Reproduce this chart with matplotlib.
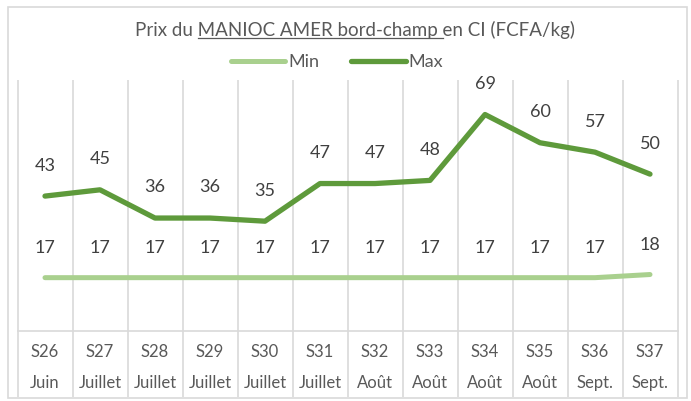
import matplotlib.pyplot as plt
from matplotlib.patches import Rectangle
from matplotlib.lines import Line2D
import numpy as np

plt.rcParams['font.family'] = ['Lato', 'DejaVu Sans']

weeks = ["S26", "S27", "S28", "S29", "S30", "S31", "S32", "S33", "S34", "S35", "S36", "S37"]
months = ["Juin", "Juillet", "Juillet", "Juillet", "Juillet", "Juillet",
          "Août", "Août", "Août", "Août", "Sept.", "Sept."]
prix_min = [17, 17, 17, 17, 17, 17, 17, 17, 17, 17, 17, 18]
prix_max = [43, 45, 36, 36, 35, 47, 47, 48, 69, 60, 57, 50]

c_min = '#a9d08e'
c_max = '#5e9a3b'
grid_c = '#d9d9d9'
txt_c = '#595959'
lab_c = '#404040'

W, H = 691, 401
fig = plt.figure(figsize=(W / 100, H / 100), dpi=100)

# outer chart border
fig.patches.append(Rectangle((8 / W, 3 / H), 679 / W, 391 / H, transform=fig.transFigure,
                             fill=False, edgecolor=grid_c, linewidth=1.2))

ax = fig.add_axes([17.5 / W, 70 / H, 660 / W, 251 / H])
x = np.arange(len(weeks))
ax.set_xlim(-0.5, len(weeks) - 0.5)
ax.set_ylim(0, 80)
for s in ax.spines.values():
    s.set_visible(False)
ax.set_xticks([])
ax.set_yticks([])

# vertical category separators, running down through the label rows
trans = ax.get_xaxis_transform()
bounds = np.arange(len(weeks) + 1) - 0.5
ax.vlines(bounds, -0.263, 1, transform=trans, colors=grid_c, linewidth=1.2, clip_on=False, zorder=0)
ax.plot([-0.5, len(weeks) - 0.5], [0, 0], transform=trans, color=grid_c, linewidth=1.2,
        clip_on=False, zorder=0)

l_min, = ax.plot(x, prix_min, color=c_min, linewidth=3.6, solid_capstyle='round', label='Min', zorder=3)
l_max, = ax.plot(x, prix_max, color=c_max, linewidth=3.8, solid_capstyle='round', label='Max', zorder=3)

for xi, v in zip(x, prix_min):
    ax.annotate(str(v), (xi, v), xytext=(0, 21), textcoords='offset points',
                ha='center', va='center', fontsize=13, color=lab_c)
for xi, v in zip(x, prix_max):
    ax.annotate(str(v), (xi, v), xytext=(0, 22), textcoords='offset points',
                ha='center', va='center', fontsize=13, color=lab_c)

for xi, w, m in zip(x, weeks, months):
    ax.text(xi, -0.084, w, transform=trans, ha='center', va='center', fontsize=12, color=txt_c)
    ax.text(xi, -0.207, m, transform=trans, ha='center', va='center', fontsize=12, color=txt_c)

# title with underlined middle part
pre, mid = "Prix du ", "MANIOC AMER bord-champ "
title = pre + mid + "en CI (FCFA/kg)"
tfs = 13.5
t = fig.text(355 / W, (H - 30) / H, title, ha='center', va='center', fontsize=tfs, color=txt_c)
fig.canvas.draw()
r = fig.canvas.get_renderer()


def text_w(s):
    tmp = fig.text(0, 0, s + "|", fontsize=tfs)
    bar = fig.text(0, 0, "|", fontsize=tfs)
    w = tmp.get_window_extent(r).width - bar.get_window_extent(r).width
    tmp.remove()
    bar.remove()
    return w


bb = t.get_window_extent(r)
x0 = bb.x0 + text_w(pre)
x1 = bb.x0 + text_w(pre + mid)
uy = bb.y0 + 1
fig.lines.append(Line2D([x0 / W, x1 / W], [uy / H, uy / H], transform=fig.transFigure,
                        color=txt_c, linewidth=0.9))

fig.legend(handles=[l_min, l_max], loc='center', bbox_to_anchor=(337 / W, (H - 62) / H), ncol=2,
           frameon=False, fontsize=13, handlelength=3.0, handletextpad=0.15,
           columnspacing=1.8, labelcolor=txt_c)

fig.savefig('out.png', dpi=100)
